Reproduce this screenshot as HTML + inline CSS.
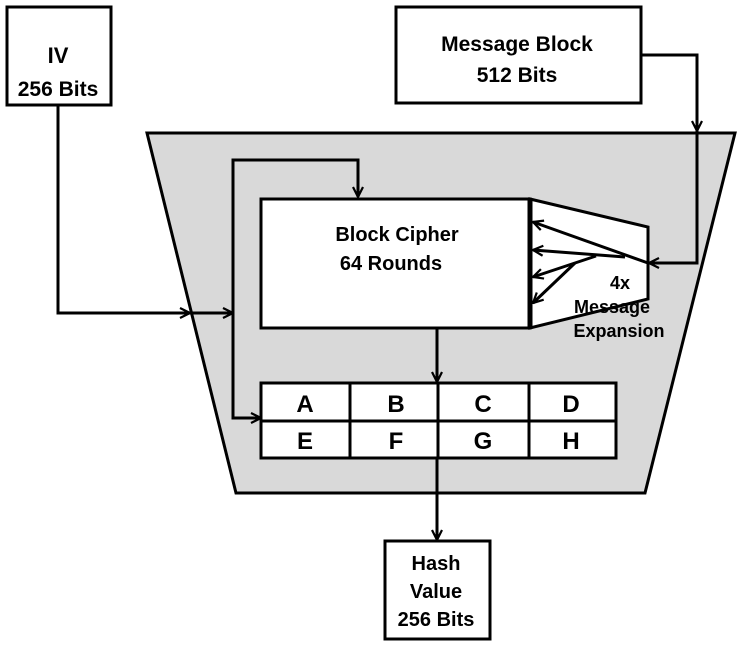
<!DOCTYPE html>
<html><head><meta charset="utf-8"><style>
html,body{margin:0;padding:0;background:#fff;}
svg{display:block;}
text{font-family:"Liberation Sans",sans-serif;font-weight:bold;fill:#000;}
</style></head><body>
<svg width="744" height="646" viewBox="0 0 744 646" xmlns="http://www.w3.org/2000/svg">
<defs>
<marker id="a" viewBox="0 0 12 12" refX="11" refY="6" markerWidth="12" markerHeight="12" markerUnits="userSpaceOnUse" orient="auto">
<path d="M1,1 L11,6 L1,11" fill="none" stroke="#000" stroke-width="2.2"/>
</marker>
</defs>
<polygon points="147,133 735,133 645,493 236,493" fill="#d9d9d9" stroke="#000" stroke-width="3"/>
<rect x="7" y="7" width="104" height="98" fill="#fff" stroke="#000" stroke-width="3"/>
<text x="58" y="63" font-size="22" text-anchor="middle">IV</text>
<text x="58" y="96" font-size="21" text-anchor="middle">256 Bits</text>
<rect x="396" y="7" width="245" height="96" fill="#fff" stroke="#000" stroke-width="3"/>
<text x="517" y="51" font-size="21" text-anchor="middle">Message Block</text>
<text x="517" y="82" font-size="21" text-anchor="middle">512 Bits</text>
<polyline points="58,105 58,313 190,313" fill="none" stroke="#000" stroke-width="3" marker-end="url(#a)"/>
<line x1="190" y1="313" x2="233" y2="313" stroke="#000" stroke-width="3" marker-end="url(#a)"/>
<polyline points="358,196 358,160 233,160 233,418 261,418" fill="none" stroke="#000" stroke-width="3" marker-end="url(#a)"/>
<polyline points="358,160 358,197" fill="none" stroke="#000" stroke-width="3" marker-end="url(#a)"/>
<polyline points="641,55 697,55 697,131" fill="none" stroke="#000" stroke-width="3" marker-end="url(#a)"/>
<polygon points="530,199 648,227 648,299 530,328" fill="#fff" stroke="#000" stroke-width="3"/>
<polyline points="697,131 697,263 649,263" fill="none" stroke="#000" stroke-width="3" marker-end="url(#a)"/>
<rect x="261" y="199" width="269" height="129" fill="#fff" stroke="#000" stroke-width="3"/>
<line x1="530" y1="198" x2="530" y2="329" stroke="#000" stroke-width="5"/>
<text x="397" y="241" font-size="20" text-anchor="middle">Block Cipher</text>
<text x="391" y="270" font-size="20" text-anchor="middle">64 Rounds</text>
<line x1="648" y1="263" x2="533" y2="222" stroke="#000" stroke-width="3" marker-end="url(#a)"/>
<line x1="625" y1="257" x2="533" y2="250" stroke="#000" stroke-width="3" marker-end="url(#a)"/>
<line x1="596" y1="256" x2="533" y2="277" stroke="#000" stroke-width="3" marker-end="url(#a)"/>
<line x1="575" y1="263" x2="533" y2="303" stroke="#000" stroke-width="3" marker-end="url(#a)"/>
<text x="620" y="289" font-size="18" text-anchor="middle">4x</text>
<text x="612" y="313" font-size="18" text-anchor="middle">Message</text>
<text x="619" y="337" font-size="18" text-anchor="middle">Expansion</text>
<line x1="437" y1="328" x2="437" y2="382" stroke="#000" stroke-width="3" marker-end="url(#a)"/>
<rect x="261" y="383" width="355" height="75" fill="#fff" stroke="#000" stroke-width="3"/>
<line x1="261" y1="421" x2="616" y2="421" stroke="#000" stroke-width="3"/>
<line x1="350" y1="383" x2="350" y2="458" stroke="#000" stroke-width="3"/>
<line x1="529" y1="383" x2="529" y2="458" stroke="#000" stroke-width="3"/>
<line x1="438" y1="383" x2="438" y2="458" stroke="#000" stroke-width="3"/>
<g font-size="24" text-anchor="middle">
<text x="305" y="412">A</text><text x="396" y="412">B</text><text x="483" y="412">C</text><text x="571" y="412">D</text>
<text x="305" y="449">E</text><text x="396" y="449">F</text><text x="483" y="449">G</text><text x="571" y="449">H</text>
</g>
<line x1="437" y1="458" x2="437" y2="540" stroke="#000" stroke-width="3" marker-end="url(#a)"/>
<rect x="385" y="541" width="105" height="98" fill="#fff" stroke="#000" stroke-width="3"/>
<text x="436" y="570" font-size="20" text-anchor="middle">Hash</text>
<text x="436" y="598" font-size="20" text-anchor="middle">Value</text>
<text x="436" y="626" font-size="20" text-anchor="middle">256 Bits</text>
</svg>
</body></html>
